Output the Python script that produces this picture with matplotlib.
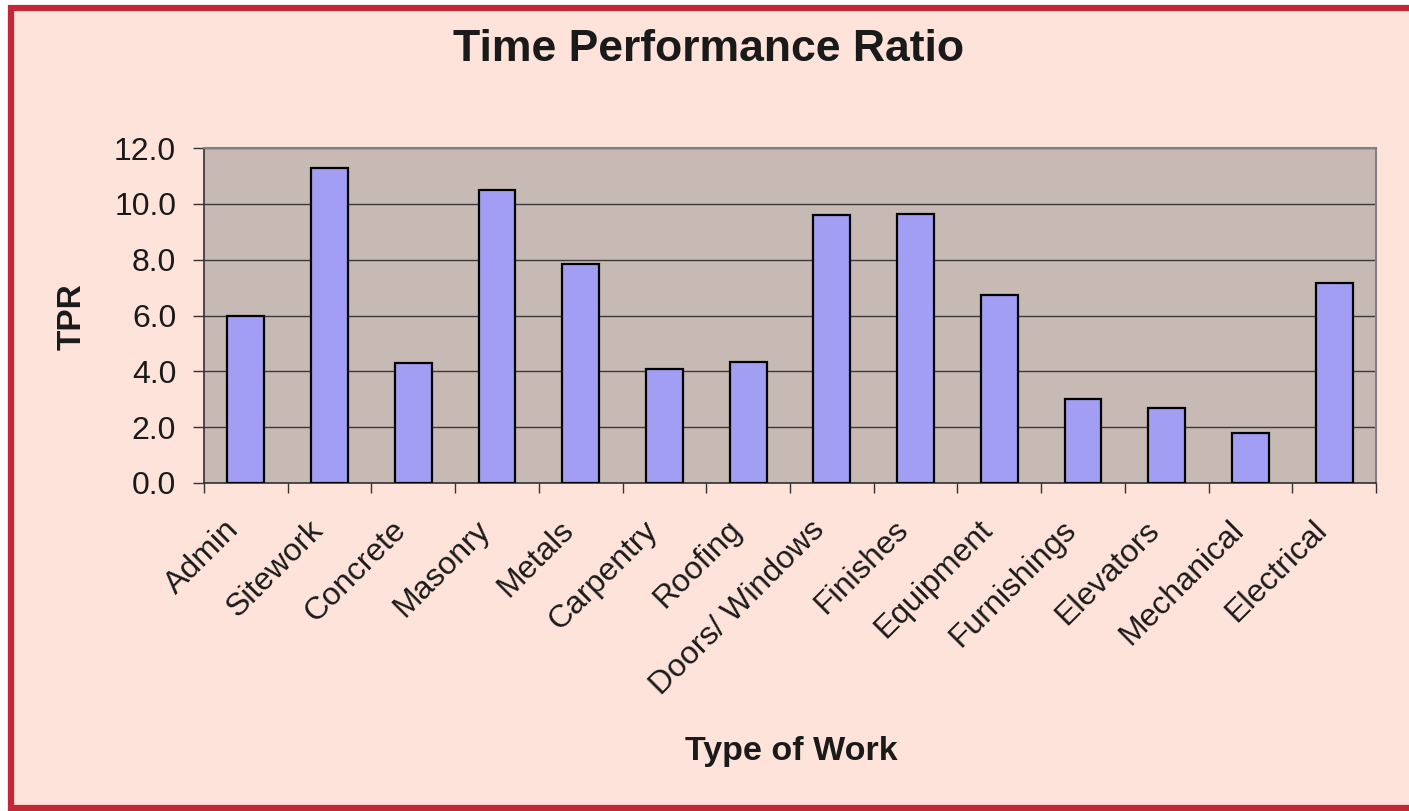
import matplotlib.pyplot as plt
import matplotlib.patches as mpatches
from matplotlib.transforms import ScaledTranslation
import numpy as np

# Data
categories = ["Admin", "Sitework", "Concrete", "Masonry", "Metals", "Carpentry", "Roofing",
              "Doors/ Windows", "Finishes", "Equipment", "Furnishings", "Elevators",
              "Mechanical", "Electrical"]
tpr = [6.0, 11.3, 4.3, 10.5, 7.85, 4.1, 4.35, 9.6, 9.65, 6.75, 3.0, 2.7, 1.8, 7.15]
yticks = [0.0, 2.0, 4.0, 6.0, 8.0, 10.0, 12.0]

plt.rcParams['font.family'] = ['Liberation Sans', 'DejaVu Sans']

W, H = 1409, 811
fig = plt.figure(figsize=(W/100, H/100), dpi=100)
fig.patch.set_facecolor('white')

# pink page with red frame (right edge runs off the picture)
frame = mpatches.Rectangle((10.5/W, 3.0/H), 1.2, 1 - 10.5/H,
                           transform=fig.transFigure, facecolor='#fde3da',
                           edgecolor='#c32839', linewidth=4.5, zorder=-10)
fig.patches.append(frame)

ax = fig.add_axes([204/W, 1 - 483/H, (1376-204)/W, (483-148)/H])
ax.set_facecolor('#c7bab5')

x = np.arange(len(categories))
ax.bar(x, tpr, width=0.44, color='#a29ef3', edgecolor='black', linewidth=1.6, zorder=3)

ax.set_xlim(-0.5, len(categories) - 0.5)
ax.set_ylim(0, 12)
ax.set_yticks(yticks)
ax.set_yticklabels([f"{v:.1f}" for v in yticks], fontsize=23, color='#1a1a1a')
ax.yaxis.grid(True, color='#3a3a3a', linewidth=1.0, zorder=1)
ax.tick_params(axis='y', length=8, width=1, pad=12, color='#333333')

ax.set_xticks(x)
ax.set_xticklabels(categories, fontsize=23, rotation=45, ha='right', va='top',
                   rotation_mode='anchor', color='#1a1a1a')
ax.tick_params(axis='x', which='major', length=0, pad=23)
shift = ScaledTranslation(-22/100, 0, fig.dpi_scale_trans)
for lab in ax.get_xticklabels():
    lab.set_transform(lab.get_transform() + shift)
ax.set_xticks(np.arange(-0.5, len(categories)), minor=True)
ax.tick_params(axis='x', which='minor', length=7, width=1, color='#333333')

for s in ['left', 'bottom']:
    ax.spines[s].set_color('#333333')
    ax.spines[s].set_linewidth(1.2)
for s in ['top', 'right']:
    ax.spines[s].set_color('#808080')
    ax.spines[s].set_linewidth(1.5)

fig.text(709/W, 1 - 61/H, "Time Performance Ratio", fontsize=32, fontweight='bold',
         ha='center', va='baseline', color='#1a1a1a')
fig.text(72/W, 1 - 317/H, "TPR", fontsize=24, fontweight='bold', rotation=90,
         ha='center', va='center', color='#1a1a1a')
fig.text(791/W, 1 - 760/H, "Type of Work", fontsize=24.5, fontweight='bold',
         ha='center', va='baseline', color='#1a1a1a')

fig.savefig("out.png", dpi=100)
